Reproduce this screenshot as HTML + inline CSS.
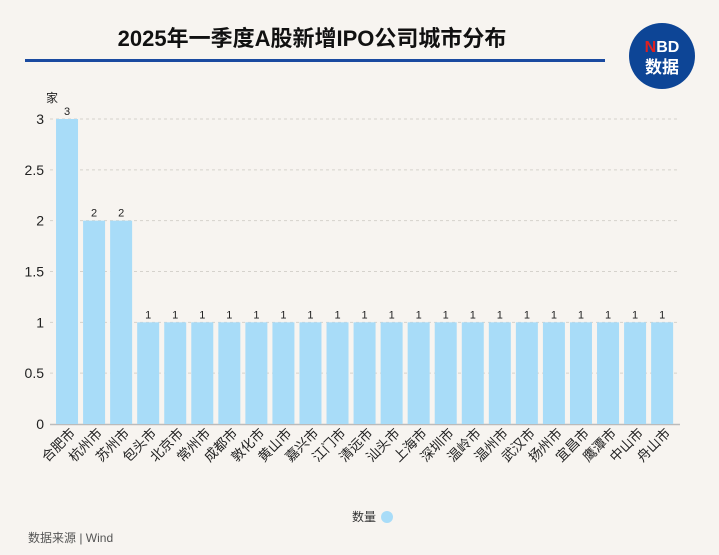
<!DOCTYPE html>
<html><head><meta charset="utf-8"><style>
body{margin:0;background:#f7f4f0;}
svg{display:block;font-family:"Liberation Sans","Noto Sans CJK SC",sans-serif;}
</style></head><body>
<svg id="c" width="719" height="555" viewBox="0 0 719 555">
<rect width="719" height="555" fill="#f7f4f0"/>
<text x="312" y="46" text-anchor="middle" font-size="22" font-weight="bold" fill="#111">2025年一季度A股新增IPO公司城市分布</text>
<rect x="25" y="59" width="580" height="3" fill="#1a4aa0"/>
<g>
<circle cx="662" cy="56" r="33" fill="#0d4596"/>
<text x="662" y="52" text-anchor="middle" font-size="16" font-weight="bold" fill="#fff"><tspan fill="#e02020">N</tspan>BD</text>
<text x="662" y="73" text-anchor="middle" font-size="17" font-weight="bold" fill="#fff">数据</text>
</g>
<g id="grid"></g><g id="bars"></g><g id="labels"></g>
<text x="46" y="102" font-size="12" fill="#222">家</text>
<g>
<text x="376" y="521" text-anchor="end" font-size="12" fill="#333">数量</text>
<circle cx="387" cy="517" r="6" fill="#a8dcf8"/>
</g>
<text x="28" y="542" font-size="12" fill="#555">数据来源 | Wind</text>
</svg>
<script>
const categories=["合肥市","杭州市","苏州市","包头市","北京市","常州市","成都市","敦化市","黄山市","嘉兴市","江门市","清远市","汕头市","上海市","深圳市","温岭市","温州市","武汉市","扬州市","宜昌市","鹰潭市","中山市","舟山市"];
const values=[3,2,2,1,1,1,1,1,1,1,1,1,1,1,1,1,1,1,1,1,1,1,1];
const yTicks=[0,0.5,1,1.5,2,2.5,3];
const yTickLabels=["0","0.5","1","1.5","2","2.5","3"];
const NS="http://www.w3.org/2000/svg";
const y0=424,y3=119,x0=53.5,pitch=27.05,bw=22;
const yS=v=>y0-(y0-y3)*v/3;
const xS=i=>x0+pitch*i+pitch/2;
function mk(t,a,p){const e=document.createElementNS(NS,t);for(const k in a)e.setAttribute(k,a[k]);p.appendChild(e);return e;}
const g=document.getElementById('grid'),b=document.getElementById('bars'),l=document.getElementById('labels');
yTicks.forEach((v,i)=>{
 if(v>0){const ln=mk('line',{x1:50,x2:680,y1:yS(v),y2:yS(v),stroke:'#d5d2cc','stroke-dasharray':'3,3'},g);
 
 }
 const t=mk('text',{x:44,y:yS(v)+5,'text-anchor':'end','font-size':14,fill:'#222'},g);t.textContent=yTickLabels[i];
 
 
});
const ax=mk('line',{x1:50,x2:680,y1:y0+0.5,y2:y0+0.5,stroke:'#bbb','stroke-width':1.5},g);


values.forEach((v,i)=>{
 const cx=xS(i);
 const r=mk('rect',{x:cx-bw/2,y:yS(v),width:bw,height:y0-yS(v),fill:'#a8dcf8'},b);
 
 
 const vt=mk('text',{x:cx,y:yS(v)-4,'text-anchor':'middle','font-size':11,fill:'#222'},l);vt.textContent=v;
 
 
 const ct=mk('text',{x:0,y:0,'text-anchor':'end','font-size':13.5,fill:'#222',transform:`translate(${cx+9},${y0+10}) rotate(-45)`},l);ct.textContent=categories[i];
 
 
});
</script>
</body></html>
